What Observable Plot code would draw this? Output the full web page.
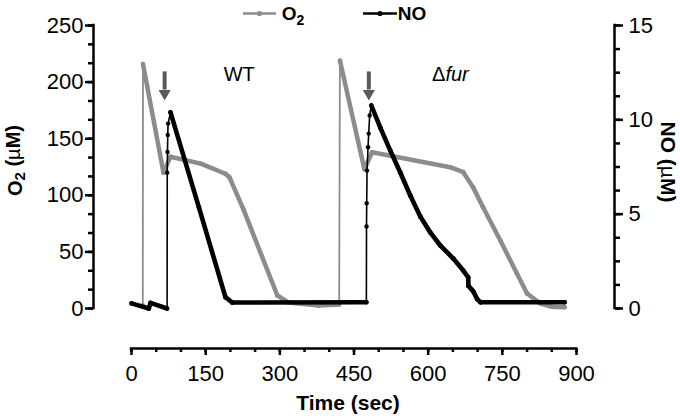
<!DOCTYPE html>
<html><head><meta charset="utf-8">
<script src="https://cdn.jsdelivr.net/npm/d3@7"></script>
<script src="https://cdn.jsdelivr.net/npm/@observablehq/plot@0.6"></script>
<style>body{margin:0;background:#fff;} #chart{width:680px;height:416px;}</style>
</head><body><div id="chart"></div>
<script>
// ---- data ----
const o2Time  = [22.8, 23.2, 64.7, 78.8, 140, 190, 198, 226, 295, 317, 378, 420, 421.5, 471, 486.5, 644.7, 671, 691, 711, 746, 779.5, 800, 827, 850, 876];
const o2Value = [3, 216, 120, 134, 128, 119, 116, 88, 11.5, 5.3, 2.6, 3.5, 219, 123, 138, 124.8, 120.4, 107, 89.5, 60, 31, 13.3, 4.4, 1.5, 1.2];
const noTime  = [0, 35, 38.5, 72, 72.3, 72.8, 73.3, 74, 78.9, 136.5, 190, 203.6, 475, 475.3, 475.7, 476.4, 478.4, 479.7, 481.7, 485.1, 503.2, 523.4, 543.6, 563.8, 584.1, 604.3, 624.5, 650.8, 671, 681, 681.5, 691, 699, 706, 876];
const noValue = [0.27, 0, 0.3, 0, 7.2, 8.3, 9.2, 9.8, 10.4, 5.35, 0.6, 0.32, 0.33, 4.35, 5.58, 7.31, 8.55, 9.27, 10.23, 10.76, 9.59, 8.37, 7.21, 5.99, 4.88, 4.03, 3.34, 2.65, 2.01, 1.65, 1.2, 0.92, 0.5, 0.33, 0.33];
const xTicks  = [0, 150, 300, 450, 600, 750, 900];
const o2Ticks = [0, 50, 100, 150, 200, 250];
const noTicks = [0, 5, 10, 15];
const condLabels = ["WT", "Δfur"];
const condTime   = [218, 645];
const condLevel  = [201, 201];
const arrowTime  = [67, 480];
const arrowTop = 209, arrowBase = 193, arrowHead = 190;
const seriesNames = ["O2", "NO"];

const GRAY = "#8c8c8c", BLACK = "#000", ARROW = "#5a5a5a";
const k = 250 / 15; // NO (µM) -> O2 axis units
const o2 = o2Time.map((t, i) => ({t, v: o2Value[i]}));
const no = noTime.map((t, i) => ({t, v: noValue[i] * k}));
function segs(arr) {
  const out = [];
  for (let i = 1; i < arr.length; i++) {
    const a = arr[i - 1], b = arr[i];
    const rate = (b.v - a.v) / (b.t - a.t);
    out.push({x1: a.t, y1: a.v, x2: b.t, y2: b.v, thin: rate > 1.8});
  }
  return out;
}
const o2s = segs(o2), nos = segs(no);
const xMinor = d3.range(0, 901, 50);
const o2Minor = d3.range(0, 250.1, 50 / 3);
const noMinor = d3.range(0, 15.01, 1.25).map(v => v * k);

const FONT = "'Liberation Sans', Arial, Helvetica, sans-serif";
const lw = 2.5;

const chart = Plot.plot({
  width: 680, height: 416,
  marginLeft: 131, marginRight: 104, marginTop: 25, marginBottom: 108,
  x: {domain: [0, 900]},
  y: {domain: [0, 250]},
  style: {fontFamily: FONT, fontSize: "22px", color: "#000", background: "#fff", overflow: "visible"},
  marks: [
    // axes
    Plot.ruleX([0], {y1: 0, y2: 250, dx: -38, strokeWidth: lw, strokeLinecap: "square"}),
    Plot.axisY(o2Minor, {anchor: "left", tickSize: 5, tickFormat: () => "", dx: -38, strokeWidth: lw, label: null}),
    Plot.axisY(o2Ticks, {anchor: "left", tickSize: 8, tickPadding: 2, dx: -38, strokeWidth: lw, fontSize: 22, label: null}),
    Plot.ruleX([900], {y1: 0, y2: 250, dx: 38, strokeWidth: lw, strokeLinecap: "square"}),
    Plot.axisY(noMinor, {anchor: "right", tickSize: 5, tickFormat: () => "", dx: 38, strokeWidth: lw, label: null}),
    Plot.axisY(noTicks.map(v => v * k), {anchor: "right", tickSize: 8, tickPadding: 6, dx: 38, strokeWidth: lw, fontSize: 22, label: null,
      tickFormat: d => String(Math.round(d / k))}),
    Plot.ruleY([0], {x1: 0, x2: 900, dy: 40, strokeWidth: lw, strokeLinecap: "square"}),
    Plot.axisX(xMinor, {anchor: "bottom", tickSize: 4, tickFormat: () => "", dy: 40, strokeWidth: lw, label: null}),
    Plot.axisX(xTicks, {anchor: "bottom", tickSize: 7, tickPadding: 10, dy: 40, strokeWidth: lw, fontSize: 22, label: null}),
    // titles
    Plot.text(["Time (sec)"], {text: d => d, frameAnchor: "bottom", dy: 101, dx: -6, lineAnchor: "bottom", textAnchor: "middle", fontWeight: "bold", fontSize: 21}),
    Plot.text(["O2 (µM)"], {text: d => d, frameAnchor: "left", rotate: -90, dx: -110, dy: -6.5, lineAnchor: "bottom", textAnchor: "middle", fontWeight: "bold", fontSize: 20}),
    Plot.text(["NO (µM)"], {text: d => d, frameAnchor: "right", rotate: 90, dx: 84, dy: -5, lineAnchor: "bottom", textAnchor: "middle", fontWeight: "bold", fontSize: 21}),
    // O2 series
    Plot.link(o2s, {x1: "x1", y1: "y1", x2: "x2", y2: "y2", stroke: GRAY, strokeWidth: d => d.thin ? 1.8 : 4.5, strokeLinecap: "round"}),
    Plot.dot(o2, {x: "t", y: "v", r: 2.2, fill: GRAY}),
    // NO series
    Plot.link(nos, {x1: "x1", y1: "y1", x2: "x2", y2: "y2", stroke: BLACK, strokeWidth: d => d.thin ? 1.6 : 4.6, strokeLinecap: "round"}),
    Plot.dot(no, {x: "t", y: "v", r: 2.2, fill: BLACK}),
    // annotations
    Plot.ruleX(arrowTime, {y1: arrowTop, y2: arrowBase, stroke: ARROW, strokeWidth: 4}),
    Plot.dot(arrowTime, {x: d => d, y: arrowHead, symbol: "triangle", rotate: 180, r: 4.5, fill: ARROW, stroke: "none"}),
    Plot.text(condLabels, {x: (d, i) => condTime[i], y: (d, i) => condLevel[i], text: d => d, lineAnchor: "bottom", textAnchor: "middle", fontSize: 20})
  ]
});
document.getElementById("chart").appendChild(chart);

// rich text fix-ups (subscripts, italics, µ)
const svg = d3.select(chart);
svg.selectAll("text").each(function() {
  const el = d3.select(this);
  const t = this.textContent;
  if (t === "O2 (µM)" || t === "NO (µM)") {
    el.text(null);
    if (t === "O2 (µM)") {
      el.append("tspan").text("O");
      el.append("tspan").attr("font-size", "15px").attr("dy", "0.25em").text("2");
      el.append("tspan").attr("dy", "-0.25em").text(" (");
    } else {
      el.append("tspan").text("NO (");
    }
    el.append("tspan").attr("font-weight", "normal").text("µ");
    el.append("tspan").text("M)");
  } else if (t === "Δfur") {
    el.text(null);
    el.append("tspan").text("Δ");
    el.append("tspan").attr("font-style", "italic").text("fur");
  }
});

// legend
const lg = svg.append("g").attr("font-family", FONT).attr("font-weight", "bold").attr("font-size", 19);
const legendItems = [
  {name: seriesNames[0], color: GRAY, x0: 243, x1: 276, tx: 293},
  {name: seriesNames[1], color: BLACK, x0: 363, x1: 397, tx: 412}
];
legendItems.forEach(it => {
  lg.append("line").attr("x1", it.x0).attr("x2", it.x1).attr("y1", 13.5).attr("y2", 13.5)
    .attr("stroke", it.color).attr("stroke-width", 2.5);
  lg.append("circle").attr("cx", (it.x0 + it.x1) / 2).attr("cy", 13.5).attr("r", 2.6).attr("fill", it.color);
  const tx = lg.append("text").attr("x", it.tx).attr("y", 19.5).attr("fill", "#000");
  if (it.name === "O2") {
    tx.append("tspan").text("O");
    tx.append("tspan").attr("font-size", 14).attr("dy", 5).text("2");
  } else {
    tx.text(it.name);
  }
});
</script>
</body></html>
